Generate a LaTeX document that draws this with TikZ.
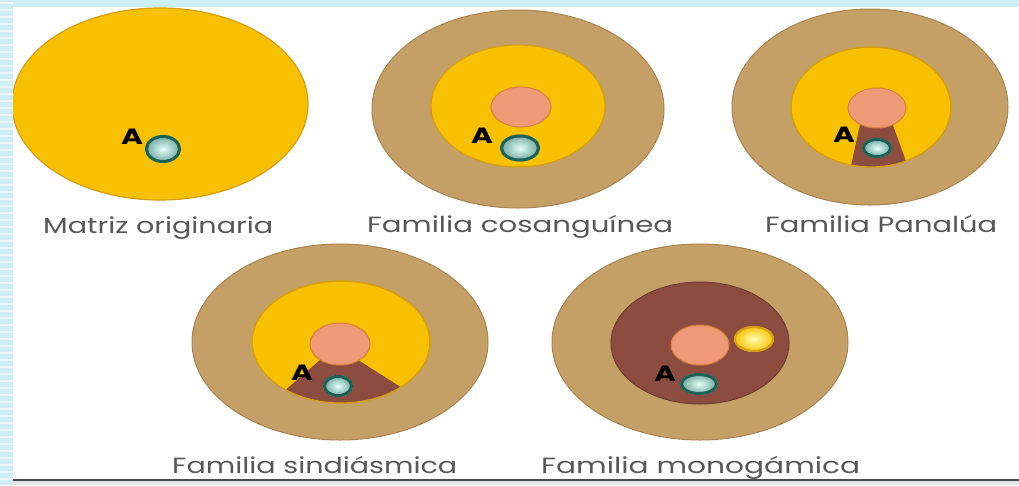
\documentclass[tikz,border=0pt]{standalone}
\usepackage{fontspec}
\setmainfont{Poppins}
\usepackage{graphicx}
\definecolor{bgblue}{RGB}{206,238,246}
\definecolor{yel}{RGB}{247,192,0}
\definecolor{yeledge}{RGB}{214,158,20}
\definecolor{tan}{RGB}{196,159,102}
\definecolor{tanedge}{RGB}{168,132,80}
\definecolor{pinkc}{RGB}{239,154,118}
\definecolor{pinkedge}{RGB}{215,130,60}
\definecolor{brownc}{RGB}{140,76,63}
\definecolor{tealout}{RGB}{28,98,86}
\definecolor{tealin}{RGB}{225,255,250}
\definecolor{labgray}{RGB}{88,88,88}
\newcommand{\tealdot}[4]{%
  \shade[inner color=tealin,outer color=tealout!60!tealin] (#1,#2) ellipse [x radius=#3,y radius=#4];
  \draw[tealout,line width=3pt] (#1,#2) ellipse [x radius=#3-1.5,y radius=#4-1.5];}
\begin{document}
\begin{tikzpicture}[x=1pt,y=-1pt,
  outerring/.style={fill=tan,draw=tanedge,line width=1pt},
  inneryel/.style={fill=yel,draw=yeledge,line width=1.2pt},
  innerbrown/.style={fill=brownc,draw=brownc!80!black,line width=1pt},
  pinkdisc/.style={fill=pinkc,draw=pinkedge,line width=1pt},
  letterA/.style={font=\fontsize{22}{22}\selectfont\bfseries,text=black,inner sep=0pt,xscale=1.35},
  lab/.style={font=\fontsize{22}{22}\selectfont,text=labgray,inner sep=0pt,anchor=base west}]
\useasboundingbox (0,0) rectangle (1019,485);
\fill[bgblue] (0,0) rectangle (1019,485);
\foreach \yy in {3,10,...,485} \draw[white!55!bgblue,line width=2pt] (0,\yy) -- (13,\yy);
\fill[white] (13,7) rectangle (1019,479);
\fill[bgblue!60!gray!40] (13,481) rectangle (1019,485);
\draw[gray!60!black,line width=2.2pt] (13,480) -- (1019,480);
\begin{scope}
\clip (13,7) rectangle (1019,479);
% 1 Matriz originaria
\filldraw[inneryel] (160,104) ellipse [x radius=148,y radius=96];
\tealdot{163}{149}{18}{14}
\node[letterA] (a1) at (132,137) {A};
% 2 Familia cosanguinea
\filldraw[outerring] (518,109) ellipse [x radius=146,y radius=99];
\filldraw[inneryel] (518,106) ellipse [x radius=87,y radius=61];
\filldraw[pinkdisc] (521,107) ellipse [x radius=30,y radius=20];
\tealdot{520}{148}{20}{13.5}
\node[letterA] (a2) at (482,136) {A};
% 3 Familia Panalua
\filldraw[outerring] (870,107) ellipse [x radius=138,y radius=98];
\filldraw[inneryel] (871,107) ellipse [x radius=80,y radius=60];
\begin{scope}
\clip (871,107) ellipse [x radius=80,y radius=60];
\fill[brownc] (861,120) -- (891,120) -- (911,175) -- (849,175) -- cycle;
\end{scope}
\draw[yeledge,line width=1.2pt] (871,107) ellipse [x radius=80,y radius=60];
\filldraw[pinkdisc] (877,108) ellipse [x radius=29,y radius=20];
\tealdot{877}{148}{15}{10}
\node[letterA] (a3) at (844,135) {A};
% 4 Familia sindiasmica
\filldraw[outerring] (340,342) ellipse [x radius=148,y radius=98];
\filldraw[inneryel] (341,342) ellipse [x radius=89,y radius=61];
\begin{scope}
\clip (341,342) ellipse [x radius=89,y radius=61];
\fill[brownc] (320,360) -- (358,360) -- (440,412) -- (260,412) -- cycle;
\end{scope}
\draw[yeledge,line width=1.2pt] (341,342) ellipse [x radius=89,y radius=61];
\filldraw[pinkdisc] (340,344) ellipse [x radius=30,y radius=21];
\tealdot{338}{386}{15}{11}
\node[letterA] (a4) at (302,373) {A};
% 5 Familia monogamica
\filldraw[outerring] (700,342) ellipse [x radius=148,y radius=98];
\filldraw[innerbrown] (700,343) ellipse [x radius=89,y radius=61];
\filldraw[pinkdisc] (700,345) ellipse [x radius=29,y radius=20];
\shade[inner color=yellow!30!white,outer color=yel] (754,339) ellipse [x radius=20,y radius=13];
\draw[yeledge,line width=2pt] (754,339) ellipse [x radius=19,y radius=12];
\tealdot{699}{384}{19}{11}
\node[letterA] (a5) at (665,374) {A};
\end{scope}
% labels
\node[lab] (l1) at (43,233) {\resizebox{230pt}{\height}{Matriz originaria}};
\node[lab] (l2) at (367,232) {\resizebox{306pt}{\height}{Familia cosanguínea}};
\node[lab] (l3) at (765,232) {\resizebox{232pt}{\height}{Familia Panalúa}};
\node[lab] (l4) at (172,473) {\resizebox{285pt}{\height}{Familia sindiásmica}};
\node[lab] (l5) at (541,473) {\resizebox{319pt}{\height}{Familia monogámica}};
\end{tikzpicture}
\end{document}
